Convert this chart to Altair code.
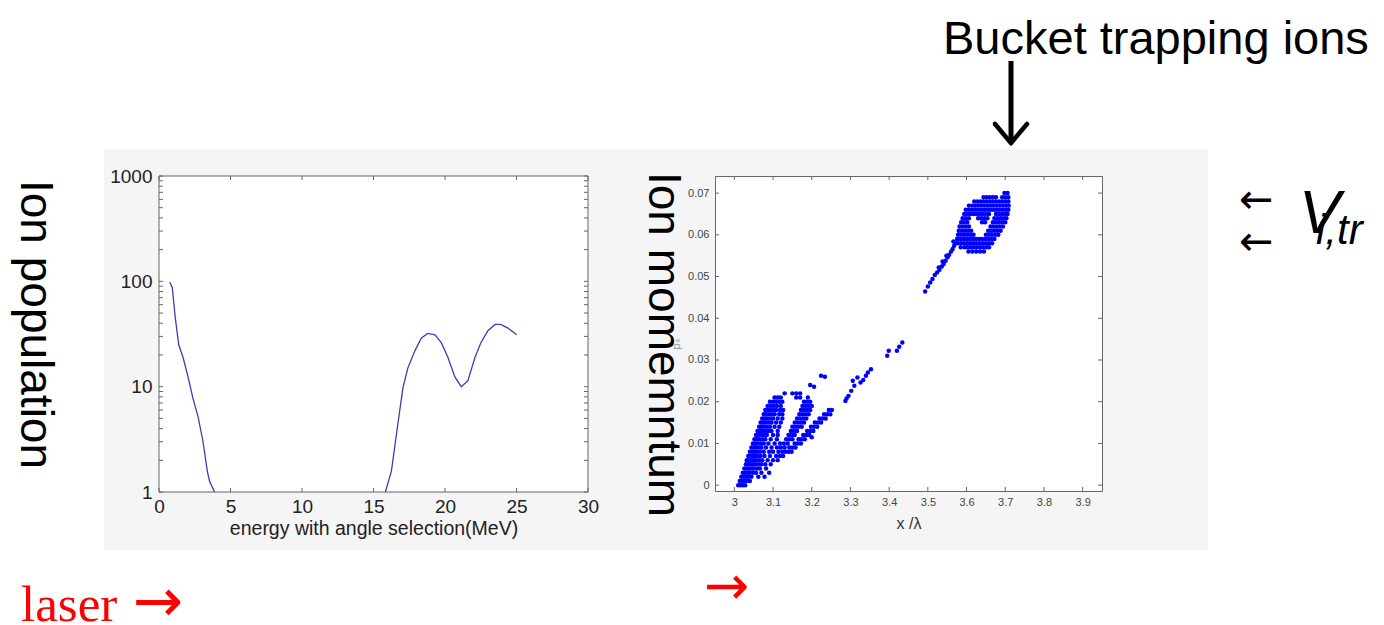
import altair as alt
import pandas as pd

# ---------------- data ----------------
energy_a = [0.75, 0.93, 1.14, 1.38, 1.68, 2.03, 2.38, 2.73, 3.08, 3.38, 3.54, 3.89]
pop_a = [98, 87, 45, 25, 19, 12.4, 7.7, 5.2, 3.0, 1.57, 1.26, 1.0]
energy_b = [15.83, 16.25, 16.7, 17.06, 17.4, 17.9, 18.35, 18.8, 19.3, 19.75, 20.2,
            20.7, 21.14, 21.6, 22.1, 22.5, 23.0, 23.5, 23.9, 24.4, 24.9, 25.0]
pop_b = [1.0, 1.57, 4.4, 9.8, 15, 22, 29, 32, 31, 26, 19, 12.3, 10, 11.4, 19, 26,
         34, 39, 39, 36, 32, 31]

x_ticks_left = [0, 5, 10, 15, 20, 25, 30]
y_ticks_left = [1, 10, 100, 1000]
y_minor_left = [1, 2, 3, 4, 5, 6, 7, 8, 9, 10, 20, 30, 40, 50, 60, 70, 80, 90,
                100, 200, 300, 400, 500, 600, 700, 800, 900, 1000]
x_ticks_right = [3.0, 3.1, 3.2, 3.3, 3.4, 3.5, 3.6, 3.7, 3.8, 3.9]
y_ticks_right = [0, 0.01, 0.02, 0.03, 0.04, 0.05, 0.06, 0.07]

# lower ion cluster: (momentum, [positions])
lower_rows = [
    (0.000, [3.010, 3.016, 3.022, 3.028]),
    (0.001, [3.014, 3.020, 3.026, 3.032, 3.040]),
    (0.002, [3.018, 3.024, 3.030, 3.036, 3.044, 3.062, 3.078]),
    (0.003, [3.022, 3.028, 3.034, 3.040, 3.048, 3.056, 3.070, 3.090]),
    (0.004, [3.026, 3.032, 3.038, 3.044, 3.050, 3.058, 3.066, 3.082]),
    (0.005, [3.030, 3.036, 3.042, 3.048, 3.054, 3.062, 3.070, 3.080, 3.094]),
    (0.006, [3.032, 3.038, 3.044, 3.050, 3.056, 3.064, 3.072, 3.086, 3.100, 3.112]),
    (0.007, [3.036, 3.042, 3.048, 3.054, 3.060, 3.068, 3.078, 3.092, 3.108, 3.118, 3.126]),
    (0.008, [3.040, 3.046, 3.052, 3.058, 3.066, 3.076, 3.090, 3.100, 3.114, 3.124, 3.132, 3.140, 3.148]),
    (0.009, [3.044, 3.050, 3.056, 3.062, 3.070, 3.082, 3.096, 3.110, 3.120, 3.130, 3.142, 3.150, 3.158]),
    (0.010, [3.048, 3.054, 3.060, 3.068, 3.076, 3.088, 3.104, 3.118, 3.128, 3.138, 3.156, 3.164, 3.172]),
    (0.011, [3.052, 3.058, 3.064, 3.072, 3.080, 3.094, 3.110, 3.134, 3.142, 3.150, 3.166, 3.174, 3.182]),
    (0.012, [3.056, 3.062, 3.068, 3.076, 3.084, 3.100, 3.112, 3.140, 3.148, 3.156, 3.178, 3.186, 3.194]),
    (0.013, [3.060, 3.066, 3.072, 3.080, 3.088, 3.096, 3.112, 3.146, 3.154, 3.162, 3.188, 3.196, 3.204]),
    (0.014, [3.064, 3.070, 3.076, 3.084, 3.092, 3.104, 3.116, 3.150, 3.158, 3.166, 3.174, 3.198, 3.206, 3.214]),
    (0.015, [3.068, 3.074, 3.080, 3.088, 3.096, 3.108, 3.120, 3.156, 3.164, 3.172, 3.180, 3.208, 3.216, 3.224]),
    (0.016, [3.072, 3.078, 3.084, 3.092, 3.100, 3.112, 3.124, 3.162, 3.170, 3.178, 3.186, 3.220, 3.228, 3.236]),
    (0.017, [3.076, 3.082, 3.088, 3.096, 3.104, 3.116, 3.124, 3.168, 3.176, 3.184, 3.192, 3.232, 3.240, 3.248]),
    (0.018, [3.080, 3.086, 3.092, 3.100, 3.108, 3.118, 3.126, 3.172, 3.180, 3.188, 3.196, 3.244, 3.252]),
    (0.019, [3.086, 3.094, 3.102, 3.110, 3.120, 3.176, 3.184, 3.192, 3.200]),
    (0.020, [3.092, 3.100, 3.108, 3.116, 3.124, 3.180, 3.188, 3.196]),
    (0.021, [3.104, 3.112, 3.120, 3.160, 3.170, 3.190]),
    (0.022, [3.130, 3.150, 3.160, 3.170]),
]
# sparse ions between the two clusters
mid_x = [3.196, 3.206, 3.224, 3.234, 3.200, 3.287, 3.290, 3.295, 3.302, 3.306, 3.310,
         3.318, 3.326, 3.333, 3.340, 3.345, 3.353, 3.395, 3.399, 3.420, 3.426, 3.434]
mid_p = [0.0240, 0.0236, 0.0262, 0.0260, 0.0115, 0.0202, 0.0208, 0.0214, 0.0226,
         0.0250, 0.0238, 0.0258, 0.0246, 0.0252, 0.0262, 0.0270, 0.0278, 0.0310,
         0.0322, 0.0322, 0.0332, 0.0342]
# tail leading into the bucket
tail_x = [3.493, 3.500, 3.506, 3.512, 3.518, 3.524, 3.528, 3.530, 3.536, 3.538, 3.541,
          3.546, 3.548, 3.551, 3.555, 3.560, 3.564, 3.566, 3.568, 3.572, 3.576]
tail_p = [0.0464, 0.0476, 0.0486, 0.0494, 0.0504, 0.0510, 0.0522, 0.0516, 0.0524,
          0.0536, 0.0530, 0.0538, 0.0550, 0.0546, 0.0552, 0.0560, 0.0566, 0.0584,
          0.0574, 0.0580, 0.0590]
# trapped ions in the bucket
bucket_rows = [
    (0.056, [3.605, 3.615, 3.625, 3.635, 3.645]),
    (0.057, [3.585, 3.595, 3.603, 3.611, 3.619, 3.627, 3.635, 3.643, 3.651, 3.658]),
    (0.058, [3.578, 3.586, 3.594, 3.602, 3.610, 3.618, 3.626, 3.634, 3.642, 3.650, 3.658, 3.666]),
    (0.059, [3.576, 3.584, 3.592, 3.600, 3.608, 3.616, 3.624, 3.632, 3.640, 3.648, 3.656, 3.664, 3.672]),
    (0.060, [3.578, 3.586, 3.594, 3.602, 3.610, 3.618, 3.650, 3.658, 3.666, 3.674, 3.682]),
    (0.061, [3.580, 3.588, 3.596, 3.604, 3.612, 3.656, 3.664, 3.672, 3.680, 3.688]),
    (0.062, [3.582, 3.590, 3.598, 3.606, 3.662, 3.670, 3.678, 3.686, 3.694]),
    (0.063, [3.586, 3.594, 3.602, 3.640, 3.648, 3.668, 3.676, 3.684, 3.692, 3.700]),
    (0.064, [3.590, 3.598, 3.606, 3.630, 3.638, 3.646, 3.654, 3.672, 3.680, 3.688, 3.696, 3.703]),
    (0.065, [3.594, 3.602, 3.610, 3.618, 3.626, 3.634, 3.642, 3.650, 3.658, 3.676, 3.684, 3.692, 3.700, 3.706]),
    (0.066, [3.598, 3.606, 3.614, 3.622, 3.630, 3.638, 3.646, 3.654, 3.662, 3.670, 3.678, 3.686, 3.694, 3.702, 3.708]),
    (0.067, [3.606, 3.614, 3.622, 3.630, 3.638, 3.646, 3.654, 3.662, 3.670, 3.678, 3.686, 3.694, 3.702, 3.709]),
    (0.068, [3.620, 3.628, 3.636, 3.644, 3.652, 3.660, 3.668, 3.676, 3.684, 3.692, 3.700, 3.708]),
    (0.069, [3.644, 3.652, 3.660, 3.668, 3.676, 3.692, 3.700, 3.708]),
    (0.070, [3.698, 3.706]),
]

# ---------------- tables ----------------
df_line = pd.DataFrame({
    "energy": energy_a + energy_b,
    "pop": pop_a + pop_b,
    "seg": ["a"] * len(energy_a) + ["b"] * len(energy_b),
})
sx, sp = [], []
for p, xs in lower_rows + bucket_rows:
    sx += xs
    sp += [p] * len(xs)
sx += mid_x + tail_x
sp += mid_p + tail_p
df_sc = pd.DataFrame({"x": sx, "p": sp})
one = pd.DataFrame({"k": [0]})

FRAME = "#666666"
W1, H1 = 429, 316
W2, H2 = 387, 315
TL = 4

# ---------------- left panel ----------------
xs_left = alt.Scale(domain=[0, 30], nice=False, zero=False)
ys_left = alt.Scale(type="log", domain=[1, 1000], nice=False)
ax_x_left = alt.Axis(values=x_ticks_left, title="energy with angle selection(MeV)",
                     ticks=False, domain=False, grid=False, labelFlush=False, zindex=2,
                     labelFontSize=19, labelColor="#222", labelPadding=5,
                     labelFont="Liberation Sans", titleFont="Liberation Sans",
                     titleFontSize=19.5, titleFontWeight="normal", titleColor="#222",
                     titlePadding=3)
ax_y_left = alt.Axis(values=y_ticks_left, format="d", title=None, ticks=False, zindex=2,
                     domain=False, grid=False, labelFlush=False, labelFontSize=19,
                     labelColor="#222", labelPadding=7, labelFont="Liberation Sans")

anchor = alt.Chart(one).mark_rect(color="white").encode(
    x=alt.value(-150), x2=alt.value(-149), y=alt.value(-167), y2=alt.value(-166))
gray_bg = alt.Chart(one).mark_rect(color="#f5f5f5").encode(
    x=alt.value(-55), x2=alt.value(1049), y=alt.value(-27), y2=alt.value(374))
plot_bg = alt.Chart(one).mark_rect(fill="white", stroke=FRAME, strokeWidth=1).encode(
    x=alt.value(0), x2=alt.value(W1), y=alt.value(0), y2=alt.value(H1))

df_xt1 = pd.DataFrame({"v": x_ticks_left})
df_yt1 = pd.DataFrame({"v": y_minor_left})
lt_b = alt.Chart(df_xt1).mark_rule(color=FRAME).encode(
    x=alt.X("v:Q", scale=xs_left, axis=ax_x_left), y=alt.value(H1), y2=alt.value(H1 - TL))
lt_t = alt.Chart(df_xt1).mark_rule(color=FRAME).encode(
    x=alt.X("v:Q", scale=xs_left, axis=ax_x_left), y=alt.value(0), y2=alt.value(TL))
lt_l = alt.Chart(df_yt1).mark_rule(color=FRAME).encode(
    y=alt.Y("v:Q", scale=ys_left, axis=ax_y_left), x=alt.value(0), x2=alt.value(TL))
lt_r = alt.Chart(df_yt1).mark_rule(color=FRAME).encode(
    y=alt.Y("v:Q", scale=ys_left, axis=ax_y_left), x=alt.value(W1), x2=alt.value(W1 - TL))

line = alt.Chart(df_line).mark_line(color="#3c3cb4", strokeWidth=1.3, clip=True).encode(
    x=alt.X("energy:Q", scale=xs_left, axis=ax_x_left),
    y=alt.Y("pop:Q", scale=ys_left, axis=ax_y_left),
    detail="seg:N",
)

ion_pop = alt.Chart(one).mark_text(
    text="Ion population", angle=90, align="left", baseline="alphabetic",
    fontSize=46, font="Liberation Sans", color="black").encode(
    x=alt.value(-138), y=alt.value(4))
laser = alt.Chart(one).mark_text(
    text="laser", align="left", baseline="alphabetic",
    fontSize=51, font="Liberation Serif", color="#ff0000").encode(
    x=alt.value(-138), y=alt.value(445))
red_arrow1 = alt.Chart(one).mark_text(
    text="\u2192", align="left", baseline="alphabetic",
    fontSize=60, font="DejaVu Sans", color="#ff0000").encode(
    x=alt.value(-26), y=alt.value(445))
red_arrow2 = alt.Chart(one).mark_text(
    text="\u2192", align="left", baseline="alphabetic",
    fontSize=54, font="DejaVu Sans", color="#ff0000").encode(
    x=alt.value(545), y=alt.value(428))

left = alt.layer(anchor, gray_bg, plot_bg, lt_b, lt_t, lt_l, lt_r, line,
                 ion_pop, laser, red_arrow1, red_arrow2).properties(width=W1, height=H1)

# ---------------- right panel ----------------
xs_right = alt.Scale(domain=[2.95, 3.95], nice=False, zero=False)
ys_right = alt.Scale(domain=[-0.0014, 0.0741], nice=False, zero=False)
ax_x_right = alt.Axis(values=x_ticks_right, format="~g", title="x /\u03bb", ticks=False,
                      domain=False, grid=False, labelFlush=False, labelOverlap=False,
                      labelFontSize=11, labelColor="#444", labelPadding=5,
                      labelFont="Liberation Sans", titleFont="Liberation Sans",
                      titleFontSize=16, titleFontWeight="normal", titleColor="#333",
                      titlePadding=8)
ax_y_right = alt.Axis(values=y_ticks_right, format="~g", title=None, ticks=False,
                      domain=False, grid=False, labelFlush=False, labelFontSize=11,
                      labelColor="#444", labelPadding=6, labelFont="Liberation Sans")

df_xt2 = pd.DataFrame({"v": x_ticks_right})
df_yt2 = pd.DataFrame({"v": y_ticks_right})
rt_b = alt.Chart(df_xt2).mark_rule(color=FRAME).encode(
    x=alt.X("v:Q", scale=xs_right, axis=ax_x_right), y=alt.value(H2), y2=alt.value(H2 - TL))
rt_t = alt.Chart(df_xt2).mark_rule(color=FRAME).encode(
    x=alt.X("v:Q", scale=xs_right, axis=ax_x_right), y=alt.value(0), y2=alt.value(TL))
rt_l = alt.Chart(df_yt2).mark_rule(color=FRAME).encode(
    y=alt.Y("v:Q", scale=ys_right, axis=ax_y_right), x=alt.value(0), x2=alt.value(TL))
rt_r = alt.Chart(df_yt2).mark_rule(color=FRAME).encode(
    y=alt.Y("v:Q", scale=ys_right, axis=ax_y_right), x=alt.value(W2), x2=alt.value(W2 - TL))

scatter = alt.Chart(df_sc).mark_point(shape="circle", filled=True, size=20, opacity=1,
                                      color="#0000ff", clip=True).encode(
    x=alt.X("x:Q", scale=xs_right, axis=ax_x_right),
    y=alt.Y("p:Q", scale=ys_right, axis=ax_y_right),
)

px_label = alt.Chart(one).mark_text(
    text="p\u2093", angle=270, align="center", baseline="middle",
    fontSize=11, font="DejaVu Sans", color="#999").encode(
    x=alt.value(-38), y=alt.value(168))
ion_mom = alt.Chart(one).mark_text(
    text="Ion momemntum", angle=90, align="left", baseline="alphabetic",
    fontSize=46, font="Liberation Sans", color="black").encode(
    x=alt.value(-66), y=alt.value(-4))
bucket = alt.Chart(one).mark_text(
    text="Bucket trapping ions", align="left", baseline="alphabetic",
    fontSize=47, font="Liberation Sans", color="black").encode(
    x=alt.value(228), y=alt.value(-122))
shaft = alt.Chart(one).mark_rule(color="black", strokeWidth=5).encode(
    x=alt.value(296), x2=alt.value(296), y=alt.value(-115), y2=alt.value(-36))
head_l = alt.Chart(one).mark_rule(color="black", strokeWidth=4.5, strokeCap="round").encode(
    x=alt.value(280), x2=alt.value(296), y=alt.value(-52), y2=alt.value(-33))
head_r = alt.Chart(one).mark_rule(color="black", strokeWidth=4.5, strokeCap="round").encode(
    x=alt.value(312), x2=alt.value(296), y=alt.value(-52), y2=alt.value(-33))
larrow1 = alt.Chart(one).mark_text(
    text="\u2190", align="left", baseline="alphabetic", fontSize=41,
    font="DejaVu Sans", color="black").encode(x=alt.value(524), y=alt.value(37))
larrow2 = alt.Chart(one).mark_text(
    text="\u2190", align="left", baseline="alphabetic", fontSize=41,
    font="DejaVu Sans", color="black").encode(x=alt.value(524), y=alt.value(79))
v_main = alt.Chart(one).mark_text(
    text="V", align="left", baseline="alphabetic", fontSize=62, fontStyle="italic",
    font="Liberation Sans", color="black").encode(x=alt.value(584), y=alt.value(57))
v_sub = alt.Chart(one).mark_text(
    text="i,tr", align="left", baseline="alphabetic", fontSize=42, fontStyle="italic",
    font="Liberation Sans", color="black").encode(x=alt.value(601), y=alt.value(68))

right = alt.layer(rt_b, rt_t, rt_l, rt_r, scatter, px_label, ion_mom, bucket, shaft,
                  head_l, head_r, larrow1, larrow2, v_main, v_sub).properties(
    width=W2, height=H2)

chart = alt.hconcat(left, right, spacing=127, bounds="flush").properties(
    padding={"left": 0, "top": 0, "right": 0, "bottom": 0}
).configure_view(stroke=FRAME, strokeWidth=1, fill="white")

chart.save("out.html", embed_options={"renderer": "svg", "actions": False})
